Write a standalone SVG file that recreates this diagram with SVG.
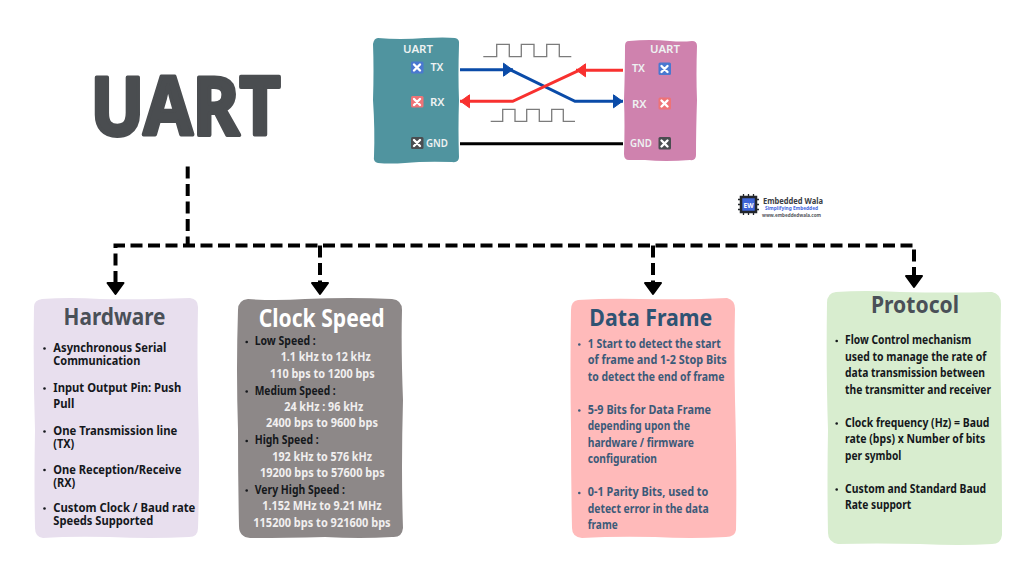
<svg xmlns="http://www.w3.org/2000/svg" width="1024" height="576" viewBox="0 0 1024 576">
<style>
text{font-family:"Noto Sans","Open Sans","Liberation Sans",sans-serif;font-weight:700;font-size:11.5px}
.h{font-size:23px;font-weight:700}
.d{stroke:#000;stroke-width:4;fill:none;stroke-dasharray:12 5.500}
.k{fill:#15181c}.w{fill:#f1efef}.b{fill:#3c5a79}
.lab{fill:#eef2f2;font-size:11.500px;font-weight:600}
.sig{fill:none;stroke:#7b7b7b;stroke-width:1.300}
.x{stroke:#fff;stroke-width:2.400;stroke-linecap:round}
</style>
<defs>
<marker id="ah" markerUnits="userSpaceOnUse" markerWidth="14" markerHeight="16" refX="12" refY="8" orient="auto"><path d="M2.500 1.500 L11.500 8 L2.500 14.500 Z" fill="context-stroke" stroke="context-stroke" stroke-linejoin="round"/></marker>
<path id="dh" d="M-8 0 H8 L0 11 Z" fill="#000" stroke="#000" stroke-width="2" stroke-linejoin="round"/>
<g id="cx"><path class="x" d="M-3 -3 L3 3 M3 -3 L-3 3"/></g>
</defs>

<g id="title"><text x="90.500" y="135" style="font-size:80px;font-weight:700;stroke:#4a4d50;stroke-width:4;stroke-linejoin:round" fill="#4a4d50" textLength="190" lengthAdjust="spacingAndGlyphs">UART</text></g>

<g id="uart-left">
<path fill="#50949f" d="M378 38 Q400 40 425 38 Q445 37 455 38 Q460 39 459 45 Q458 75 459 100 Q458 130 459 157 Q459 163 452 162 Q425 161 405 163 Q390 164 378 163 Q373 162 374 156 Q375 130 373 100 Q374 70 373 44 Q374 38 378 38 Z"/>
<text class="lab" x="403" y="53" textLength="30" lengthAdjust="spacingAndGlyphs">UART</text>
<rect x="411" y="61.500" width="12.500" height="12" rx="1.500" fill="#4a78d0"/><use href="#cx" x="417" y="67.500"/>
<text class="lab" x="430.500" y="70.500" textLength="13" lengthAdjust="spacingAndGlyphs">TX</text>
<rect x="411" y="96" width="12.500" height="11.500" rx="1.500" fill="#ee7377"/><use href="#cx" x="417" y="102"/>
<text class="lab" x="430" y="105.500" textLength="14.500" lengthAdjust="spacingAndGlyphs">RX</text>
<rect x="411" y="137" width="12.500" height="12" rx="1.500" fill="#4a4d50"/><use href="#cx" x="417" y="143"/>
<text class="lab" x="426" y="146.500" textLength="22" lengthAdjust="spacingAndGlyphs">GND</text>
</g>

<g id="uart-right">
<path fill="#cf82ae" d="M629 41 Q650 39 670 41 Q682 42 692 41 Q697 41 697 46 Q696 75 697 100 Q696 130 696 155 Q696 161 690 160 Q665 162 645 160 Q635 160 629 160 Q624 160 624 154 Q625 125 624 100 Q625 70 625 46 Q625 41 629 41 Z"/>
<text class="lab" x="650" y="52.500" textLength="30" lengthAdjust="spacingAndGlyphs">UART</text>
<text class="lab" x="632" y="72" textLength="13" lengthAdjust="spacingAndGlyphs">TX</text>
<rect x="658.500" y="62.500" width="12.500" height="12.500" rx="1.500" fill="#4a78d0"/><use href="#cx" x="664.500" y="69"/>
<text class="lab" x="632" y="107.500" textLength="14.500" lengthAdjust="spacingAndGlyphs">RX</text>
<rect x="658.500" y="97.500" width="12.500" height="12" rx="1.500" fill="#ee7377"/><use href="#cx" x="664.500" y="103.500"/>
<text class="lab" x="630" y="146.500" textLength="22" lengthAdjust="spacingAndGlyphs">GND</text>
<rect x="658.500" y="137" width="12.500" height="12.500" rx="1.500" fill="#4a4d50"/><use href="#cx" x="664.500" y="143.500"/>
</g>

<g id="signal-top"><path class="sig" d="M483.300 56.700 H496.700 V44.300 H509.300 V56.700 H521.300 V44.300 H534 V56.700 H546.700 V44.300 H559.300 V56.700 H571.300"/></g>
<g id="signal-bottom"><path class="sig" d="M490.700 121.300 H502.700 V109.300 H515 V121.300 H526.700 V109.300 H539.300 V121.300 H551.700 V109.300 H563.300 V121.300 H575"/></g>

<g id="logo">
<rect x="741" y="197" width="15" height="15" fill="#3f66d8" stroke="#23262b" stroke-width="2.500"/>
<path d="M738 199.500 H741 M738 204.500 H741 M738 209.500 H741 M756 199.500 H759 M756 204.500 H759 M756 209.500 H759 M743.500 194 V197 M748.500 194 V197 M753.500 194 V197 M743.500 212 V215 M748.500 212 V215 M753.500 212 V215" stroke="#23262b" stroke-width="1.300"/>
<text x="743.500" y="207.500" style="font-size:7px" fill="#fff" textLength="10" lengthAdjust="spacingAndGlyphs">EW</text>
<text x="763" y="203.500" style="font-size:9px" fill="#3a3d44" textLength="60" lengthAdjust="spacingAndGlyphs">Embedded Wala</text>
<text x="765" y="209.500" style="font-size:5.500px" fill="#3f66e0" textLength="53" lengthAdjust="spacingAndGlyphs">Simplifying Embedded</text>
<text x="762" y="216.500" style="font-size:5px" fill="#55585e" textLength="59" lengthAdjust="spacingAndGlyphs">www.embeddedwala.com</text>
</g>

<g id="hardware">
<path fill="#e8dfee" d="M42 299 Q70 297 100 299 Q140 300 190 298 Q198 299 198 307 Q197 350 198 400 Q200 470 198 528 Q198 537 189 537 Q150 539 110 537 Q70 536 43 538 Q35 537 35 528 Q34 480 35 430 Q33 370 34 307 Q34 300 42 299 Z"/>
<text class="h" x="63.500" y="325" fill="#4a5058" textLength="102" lengthAdjust="spacingAndGlyphs">Hardware</text>
<g class="k">
<circle cx="44.500" cy="348.500" r="1.300"/><circle cx="44.500" cy="388.500" r="1.300"/><circle cx="44.500" cy="431.500" r="1.300"/><circle cx="44.500" cy="470" r="1.300"/><circle cx="44.500" cy="508.500" r="1.300"/>
<text x="53.300" y="352" textLength="113" lengthAdjust="spacingAndGlyphs">Asynchronous Serial</text>
<text x="53.300" y="364.700" textLength="87" lengthAdjust="spacingAndGlyphs">Communication</text>
<text x="53.300" y="392" textLength="128" lengthAdjust="spacingAndGlyphs">Input Output Pin: Push</text>
<text x="53.300" y="407.700" textLength="21" lengthAdjust="spacingAndGlyphs">Pull</text>
<text x="53.300" y="435.300" textLength="124" lengthAdjust="spacingAndGlyphs">One Transmission line</text>
<text x="53.300" y="448" textLength="21" lengthAdjust="spacingAndGlyphs">(TX)</text>
<text x="53.300" y="473.700" textLength="128" lengthAdjust="spacingAndGlyphs">One Reception/Receive</text>
<text x="53.300" y="486.700" textLength="22" lengthAdjust="spacingAndGlyphs">(RX)</text>
<text x="53.300" y="512" textLength="142" lengthAdjust="spacingAndGlyphs">Custom Clock / Baud rate</text>
<text x="53.300" y="524.700" textLength="100" lengthAdjust="spacingAndGlyphs">Speeds Supported</text>
</g>
</g>

<g id="clock-speed">
<path fill="#8d8888" d="M248 299 Q275 301 305 299 Q350 297 392 299 Q402 300 402 310 Q401 350 403 400 Q401 470 403 528 Q402 538 392 537 Q360 539 325 537 Q285 538 250 538 Q239 537 239 526 Q238 480 238 430 Q236 370 238 310 Q238 300 248 299 Z"/>
<text class="h" x="258.700" y="327.300" style="font-size:25px" fill="#fff" textLength="126" lengthAdjust="spacingAndGlyphs">Clock Speed</text>
<g class="k">
<circle cx="246.700" cy="342" r="1.300"/><circle cx="246.700" cy="391.500" r="1.300"/><circle cx="246.700" cy="441" r="1.300"/><circle cx="246.700" cy="490.500" r="1.300"/>
<text x="254.700" y="345" textLength="61" lengthAdjust="spacingAndGlyphs">Low Speed :</text>
<text x="254.700" y="394.700" textLength="81" lengthAdjust="spacingAndGlyphs">Medium Speed :</text>
<text x="254.700" y="444" textLength="64" lengthAdjust="spacingAndGlyphs">High Speed :</text>
<text x="254.700" y="493.700" textLength="90.300" lengthAdjust="spacingAndGlyphs">Very High Speed :</text>
</g>
<g class="w">
<text x="280.700" y="361.300" textLength="90" lengthAdjust="spacingAndGlyphs">1.1 kHz to 12 kHz</text>
<text x="270" y="378" textLength="104.700" lengthAdjust="spacingAndGlyphs">110 bps to 1200 bps</text>
<text x="284.300" y="411" textLength="79" lengthAdjust="spacingAndGlyphs">24 kHz : 96 kHz</text>
<text x="266" y="427.300" textLength="112" lengthAdjust="spacingAndGlyphs">2400 bps to 9600 bps</text>
<text x="272.300" y="460.700" textLength="99.700" lengthAdjust="spacingAndGlyphs">192 kHz to 576 kHz</text>
<text x="260" y="477" textLength="124.700" lengthAdjust="spacingAndGlyphs">19200 bps to 57600 bps</text>
<text x="262.300" y="510" textLength="119.300" lengthAdjust="spacingAndGlyphs">1.152 MHz to 9.21 MHz</text>
<text x="253.300" y="526.700" textLength="137.300" lengthAdjust="spacingAndGlyphs">115200 bps to 921600 bps</text>
</g>
</g>

<g id="data-frame">
<path fill="#ffbaba" d="M578 300 Q610 298 640 299 Q690 300 727 298 Q735 300 735 309 Q734 350 735 400 Q737 470 736 530 Q735 537 726 537 Q690 539 655 537 Q615 536 582 538 Q572 537 572 528 Q571 480 571 430 Q570 370 571 310 Q571 301 578 300 Z"/>
<text class="h" x="589.300" y="325.700" style="font-size:24px" fill="#2f5373" textLength="123" lengthAdjust="spacingAndGlyphs">Data Frame</text>
<g class="b">
<circle cx="579.300" cy="344.500" r="1.300"/><circle cx="579.300" cy="410.500" r="1.300"/><circle cx="579.300" cy="493" r="1.300"/>
<text x="587.700" y="347.700" textLength="133" lengthAdjust="spacingAndGlyphs">1 Start to detect the start</text>
<text x="587.700" y="364.300" textLength="139" lengthAdjust="spacingAndGlyphs">of frame and 1-2 Stop Bits</text>
<text x="587.700" y="380.700" textLength="136.700" lengthAdjust="spacingAndGlyphs">to detect the end of frame</text>
<text x="587.700" y="413.700" textLength="123.300" lengthAdjust="spacingAndGlyphs">5-9 Bits for Data Frame</text>
<text x="587.700" y="430.300" textLength="102.300" lengthAdjust="spacingAndGlyphs">depending upon the</text>
<text x="587.700" y="446.700" textLength="106.300" lengthAdjust="spacingAndGlyphs">hardware / firmware</text>
<text x="587.700" y="463.300" textLength="69.300" lengthAdjust="spacingAndGlyphs">configuration</text>
<text x="587.700" y="496.300" textLength="120.700" lengthAdjust="spacingAndGlyphs">0-1 Parity Bits, used to</text>
<text x="587.700" y="513" textLength="121" lengthAdjust="spacingAndGlyphs">detect error in the data</text>
<text x="587.700" y="529.300" textLength="30" lengthAdjust="spacingAndGlyphs">frame</text>
</g>
</g>

<g id="protocol">
<path fill="#d8edcf" d="M836 292 Q865 290 900 292 Q950 293 992 292 Q1001 294 1001 304 Q1000 350 1001 400 Q1002 470 1002 535 Q1001 544 992 544 Q960 546 920 544 Q875 543 838 544 Q828 542 828 533 Q827 480 828 430 Q826 370 827 303 Q827 293 836 292 Z"/>
<text class="h" x="871" y="313.300" style="font-size:24px" fill="#4a5058" textLength="88" lengthAdjust="spacingAndGlyphs">Protocol</text>
<g class="k">
<circle cx="836.700" cy="341" r="1.300"/><circle cx="836.700" cy="423.500" r="1.300"/><circle cx="836.700" cy="489.500" r="1.300"/>
<text x="845" y="344" textLength="126.300" lengthAdjust="spacingAndGlyphs">Flow Control mechanism</text>
<text x="845" y="360.700" textLength="141.300" lengthAdjust="spacingAndGlyphs">used to manage the rate of</text>
<text x="845" y="377" textLength="140" lengthAdjust="spacingAndGlyphs">data transmission between</text>
<text x="845" y="393.700" textLength="146" lengthAdjust="spacingAndGlyphs">the transmitter and receiver</text>
<text x="845" y="426.700" textLength="144.300" lengthAdjust="spacingAndGlyphs">Clock frequency (Hz) = Baud</text>
<text x="845" y="443.300" textLength="140.300" lengthAdjust="spacingAndGlyphs">rate (bps) x Number of bits</text>
<text x="845" y="459.700" textLength="56.300" lengthAdjust="spacingAndGlyphs">per symbol</text>
<text x="845" y="492.700" textLength="141" lengthAdjust="spacingAndGlyphs">Custom and Standard Baud</text>
<text x="845" y="509.300" textLength="66.300" lengthAdjust="spacingAndGlyphs">Rate support</text>
</g>
</g>

<g id="connectors">
<path d="M460 69.700 H513" fill="none" stroke="#0a4ba8" stroke-width="3" marker-end="url(#ah)"/>
<path d="M510 69.700 L575 101.300 H623" fill="none" stroke="#0a4ba8" stroke-width="3" marker-end="url(#ah)"/>
<path d="M623 70.300 H576" fill="none" stroke="#f8312f" stroke-width="3" marker-end="url(#ah)"/>
<path d="M579 70.300 L512.700 101.300 H460" fill="none" stroke="#f8312f" stroke-width="3" marker-end="url(#ah)"/>
<path d="M460 143.700 H623" fill="none" stroke="#000" stroke-width="3"/>
<path class="d" d="M187.700 166.500 V245"/>
<path class="d" d="M115.500 283 V245.500 H914 V276"/>
<path class="d" d="M320 245.500 V283"/>
<path class="d" d="M653 245.500 V283"/>
<use href="#dh" x="115.500" y="283"/>
<use href="#dh" x="320" y="283"/>
<use href="#dh" x="653" y="283"/>
<use href="#dh" x="914" y="276"/>
</g>
</svg>
